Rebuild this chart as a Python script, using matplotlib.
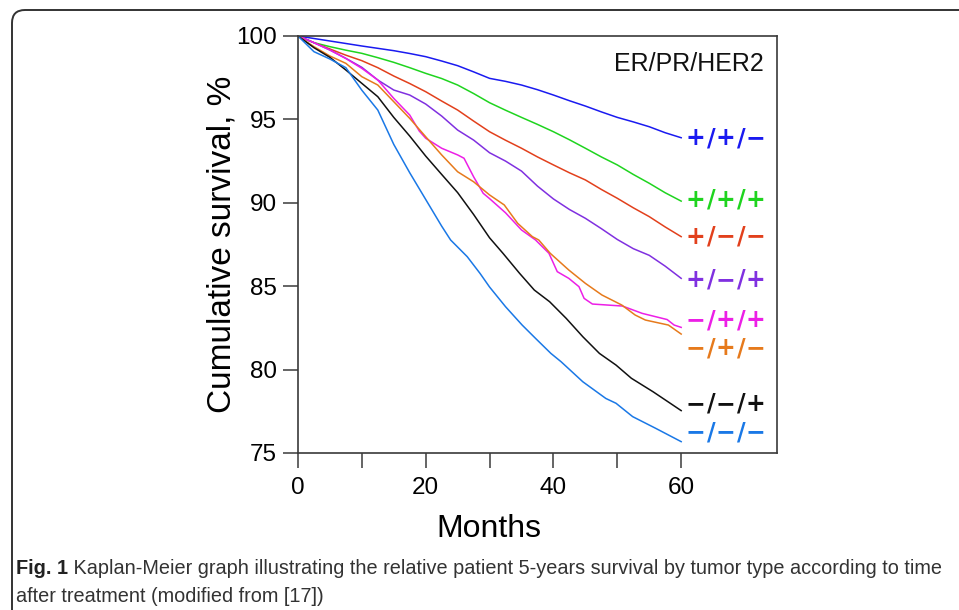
import matplotlib
matplotlib.use('Agg')
from matplotlib import pyplot as plt
from matplotlib.patches import FancyBboxPatch
from matplotlib.transforms import IdentityTransform

# survival curves: months / cumulative survival %
grid = [0, 2.5, 5, 7.5, 10, 12.5, 15, 17.5, 20, 22.5, 25, 27.5, 30,
        32.5, 35, 37.5, 40, 42.5, 45, 47.5, 50, 52.5, 55, 57.5, 60]

pp_neg = [100, 99.85, 99.70, 99.55, 99.40, 99.26, 99.12, 98.95, 98.76, 98.50, 98.22, 97.85, 97.46,
          97.28, 97.06, 96.78, 96.46, 96.12, 95.80, 95.45, 95.12, 94.85, 94.56, 94.20, 93.90]
pp_pos = [100, 99.60, 99.36, 99.15, 98.96, 98.70, 98.42, 98.10, 97.76, 97.45, 97.06, 96.55, 96.00,
          95.55, 95.12, 94.70, 94.26, 93.78, 93.27, 92.75, 92.27, 91.70, 91.17, 90.60, 90.10]
pn_neg = [100, 99.60, 99.22, 98.85, 98.52, 98.10, 97.60, 97.15, 96.66, 96.10, 95.56, 94.90, 94.26,
          93.75, 93.27, 92.75, 92.27, 91.80, 91.37, 90.80, 90.27, 89.70, 89.17, 88.55, 87.97]
pn_pos = [100, 99.60, 99.16, 98.66, 98.12, 97.36, 96.76, 96.46, 95.92, 95.20, 94.36, 93.76, 93.00,
          92.50, 91.90, 91.00, 90.23, 89.60, 89.07, 88.45, 87.80, 87.25, 86.85, 86.20, 85.47]

np_pos_t = [0, 2.5, 5, 7.5, 10, 12.5, 15, 17.5, 19, 20, 22.5, 25, 26, 27.5, 29, 30, 32.5, 35,
            37.2, 39.3, 40.6, 42.4, 44, 44.8, 46.1, 50.8, 53.9, 57.8, 58.9, 60]
np_pos = [100, 99.60, 99.16, 98.65, 98.06, 97.36, 96.26, 95.26, 94.30, 93.87, 93.27, 92.87, 92.67,
          91.56, 90.57, 90.25, 89.40, 88.37, 87.77, 86.97, 85.87, 85.47, 84.97, 84.27, 83.93, 83.81,
          83.37, 83.00, 82.67, 82.53]

np_neg_t = [0, 2.5, 5, 7.5, 10, 12.5, 15, 17.5, 20, 22.5, 25, 27.5, 30, 32.3, 34.4, 36.7, 37.7,
            39.5, 42.4, 45, 47.6, 50.7, 52.8, 54.4, 58, 60]
np_neg = [100, 99.36, 98.80, 98.36, 97.56, 97.06, 96.06, 95.06, 93.96, 92.87, 91.86, 91.26, 90.47,
          89.87, 88.77, 87.97, 87.77, 86.97, 85.97, 85.17, 84.47, 83.87, 83.27, 82.97, 82.67, 82.13]

nn_pos_t = [0, 2.5, 5, 7.5, 10, 12.5, 15, 17.5, 20, 22.5, 25, 27.5, 30, 32.1, 34.7, 37, 39.4,
            42, 44.6, 47.2, 49.8, 52.2, 55.6, 57.9, 60]
nn_pos = [100, 99.30, 98.72, 97.96, 97.16, 96.36, 95.12, 94.00, 92.80, 91.70, 90.61, 89.30, 87.90,
          86.97, 85.77, 84.77, 84.07, 83.07, 81.97, 80.97, 80.27, 79.48, 78.67, 78.08, 77.54]

nn_neg_t = [0, 2.5, 5, 7.5, 10, 12.5, 15, 17.5, 20, 22.5, 23.9, 26.5, 28.5, 30, 32.5, 35.1, 37.2,
            39.6, 41.2, 44.6, 48.2, 49.8, 52.4, 56, 60]
nn_neg = [100, 99.06, 98.62, 98.10, 96.75, 95.56, 93.50, 91.80, 90.20, 88.60, 87.77, 86.77, 85.77,
          84.95, 83.77, 82.67, 81.87, 80.97, 80.47, 79.27, 78.27, 77.98, 77.18, 76.48, 75.68]

labels = ['+/+/−', '+/+/+', '+/−/−', '+/−/+', '−/+/+', '−/+/−', '−/−/+', '−/−/−']
colors = ['#1a1af0', '#1fd41f', '#e2401c', '#8030e0', '#ec1fe6', '#e67a1c', '#111111', '#1a78e6']
label_pos = [93.87, 90.17, 87.97, 85.39, 82.97, 81.27, 77.94, 76.22]

series = [(grid, pp_neg), (grid, pp_pos), (grid, pn_neg), (grid, pn_pos),
          (np_pos_t, np_pos), (np_neg_t, np_neg), (nn_pos_t, nn_pos), (nn_neg_t, nn_neg)]

plt.rcParams['font.family'] = ['Liberation Sans', 'DejaVu Sans']

fig = plt.figure(figsize=(9.59, 6.10), dpi=100)
ax = fig.add_axes([0.3107, 0.2574, 0.4995, 0.6836])

for (t, s), c in zip(series, colors):
    ax.plot(t, s, color=c, lw=1.1)

# curve labels, drawn glyph by glyph to get the wide spacing
for name, c, yl in zip(labels, colors, label_pos):
    for k, ch in enumerate(name):
        ax.annotate(ch, xy=(62.3, yl), xytext=(15 * k, 0), textcoords='offset pixels',
                    ha='center', va='center', color=c, fontsize=17, fontweight='bold',
                    family='DejaVu Sans', annotation_clip=False)

ax.text(73, 98.3, 'ER/PR/HER2', ha='right', va='center', fontsize=18, color='#111111')

ax.set_xlim(0, 75)
ax.set_ylim(75, 100)
ax.set_xticks(range(0, 61, 10))
ax.set_xticklabels(['0', '', '20', '', '40', '', '60'])
ax.set_yticks(range(75, 101, 5))
ax.tick_params(direction='out', length=11, width=1.1, color='#3a3a3a',
               labelsize=17.5, pad=4)
ax.tick_params(axis='x', pad=6)
for sp in ax.spines.values():
    sp.set_color('#3a3a3a')
    sp.set_linewidth(1.2)

ax.set_xlabel('Months', fontsize=23)
ax.xaxis.set_label_coords(0.398, -0.146)
ax.set_ylabel('Cumulative survival, %', fontsize=24, labelpad=-1)

# rounded frame of the figure panel (runs off the right and bottom edges)
frame = FancyBboxPatch((12, -60), 1100, 660, boxstyle='round,pad=0,rounding_size=13',
                       transform=IdentityTransform(), fill=False, ec='#333333', lw=1.4)
fig.patches.append(frame)

cap_font = ['Liberation Sans Narrow', 'Liberation Sans', 'DejaVu Sans']
t1 = fig.text(16 / 959, 1 - 569 / 610, 'Fig. 1', fontsize=14.3, fontweight='bold',
              family=cap_font, color='#222222', va='center')
ax.annotate(' Kaplan-Meier graph illustrating the relative patient 5-years survival by tumor type '
            'according to time', xy=(1, 0), xycoords=t1, va='bottom', ha='left',
            fontsize=14.3, family=cap_font, color='#333333', annotation_clip=False)
fig.text(16 / 959, 1 - 596 / 610, 'after treatment (modified from [17])', fontsize=14.3,
         family=cap_font, color='#333333', va='center')

fig.savefig('out.png', dpi=100)
